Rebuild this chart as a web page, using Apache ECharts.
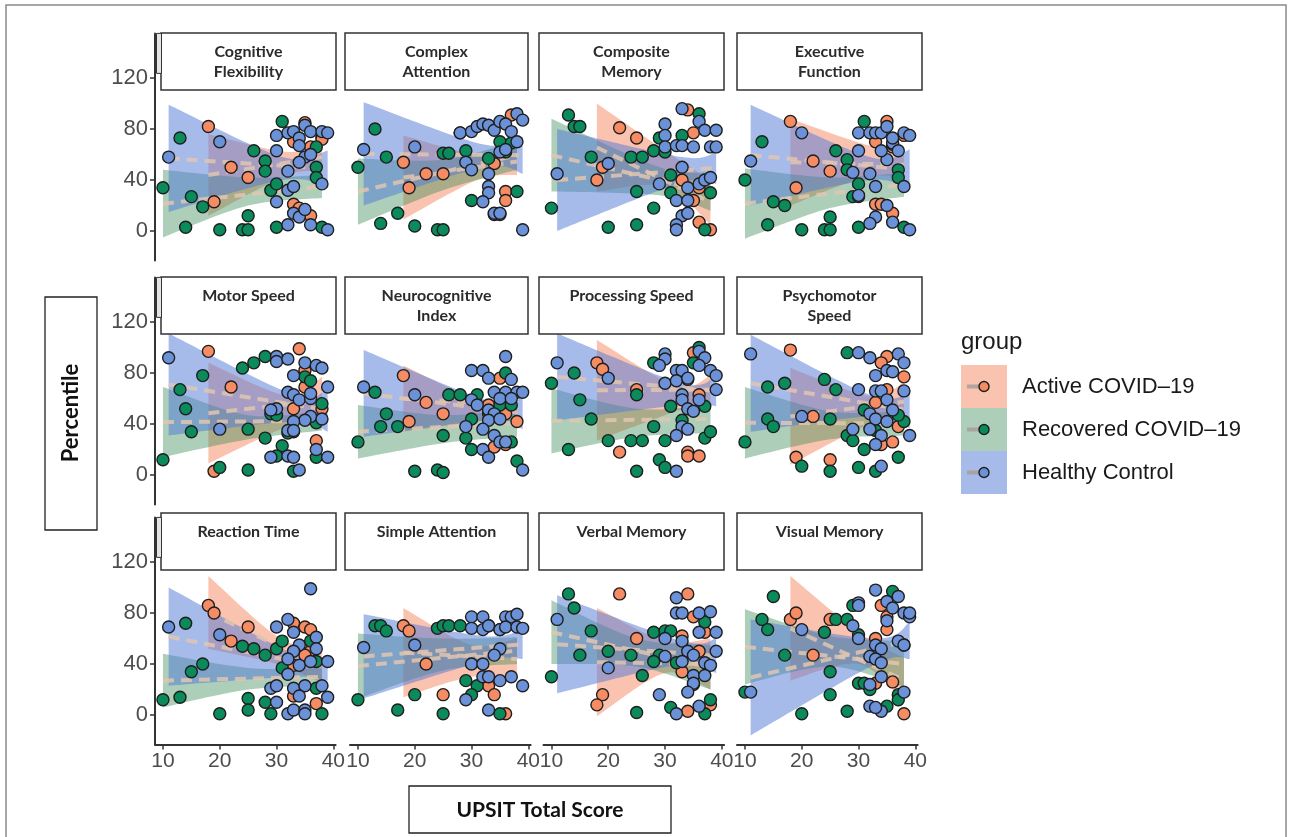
<!DOCTYPE html>
<html>
<head>
<meta charset="utf-8">
<script src="https://cdn.jsdelivr.net/npm/echarts@6/dist/echarts.min.js"></script>
<style>
  html, body { margin: 0; background: #fff; }
  #chart { width: 1292px; height: 837px; }
</style>
</head>
<body>
<div id="chart"></div>
<script>
// facet titles, in reading order
const panelTitles = [
  'Cognitive\nFlexibility', 'Complex\nAttention', 'Composite\nMemory', 'Executive\nFunction',
  'Motor Speed', 'Neurocognitive\nIndex', 'Processing Speed', 'Psychomotor\nSpeed',
  'Reaction Time', 'Simple Attention', 'Verbal Memory', 'Visual Memory'
];
const groupNames = ['Active COVID\u201319', 'Recovered COVID\u201319', 'Healthy Control'];
const yTicks = [0, 40, 80, 120];
const xTicks = [10, 20, 30, 40];

// [UPSIT score, percentile] per panel
const activePoints = [
  [[18,82],[19,23],[22,50],[25,42],[33,70],[33,21],[34,18],[35,85],[36,66],[36,12],[38,74],[38,72]],
  [[18,54],[19,34],[22,45],[25,45],[34,53],[36,31],[36,24],[34,13],[35,13],[37,91]],
  [[18,40],[19,50],[22,81],[25,73],[33,40],[34,95],[35,77],[36,34],[35,24],[36,7],[38,1]],
  [[18,86],[19,34],[22,55],[25,47],[33,70],[35,86],[36,66],[33,21],[34,21],[36,14],[38,75]],
  [[18,97],[19,3],[22,69],[34,99],[35,82],[35,69],[33,52],[33,34],[38,52],[37,27]],
  [[18,78],[19,42],[22,57],[25,48],[33,55],[35,76],[34,22],[36,48],[38,42],[36,24]],
  [[18,88],[19,83],[22,18],[25,67],[34,18],[34,15],[36,15],[35,96],[34,75],[36,63]],
  [[18,98],[19,14],[22,46],[25,12],[35,93],[34,88],[38,77],[33,57],[35,67],[34,24],[36,26],[37,38]],
  [[18,86],[19,80],[25,69],[22,58],[33,72],[35,69],[36,67],[36,50],[35,47],[33,39],[33,15],[37,9]],
  [[18,70],[19,66],[22,40],[25,16],[33,23],[34,16],[36,1]],
  [[22,95],[25,60],[19,16],[18,8],[34,95],[35,77],[37,65],[36,50],[33,34],[35,24],[38,8],[34,3],[33,62]],
  [[18,75],[19,80],[22,47],[25,75],[33,60],[34,86],[35,67],[36,26],[33,25],[38,1],[35,77]]
];
const recoveredPoints = [
  [[10,34],[13,73],[14,3],[15,27],[17,19],[20,1],[24,1],[25,1],[25,12],[26,63],[28,55],[28,47],[29,32],[30,37],[30,3],[31,86],[37,66],[37,50],[37,42],[38,3]],
  [[10,50],[13,80],[14,6],[15,58],[17,14],[20,4],[24,1],[25,1],[25,61],[26,61],[28,77],[29,63],[30,24],[33,57],[35,70],[37,69],[38,31],[36,62]],
  [[10,18],[13,91],[14,82],[15,82],[17,58],[20,3],[24,58],[26,58],[25,31],[25,5],[28,18],[28,63],[29,73],[30,62],[31,44],[31,30],[33,75],[36,92],[38,30],[37,1]],
  [[10,40],[13,70],[14,5],[15,23],[17,20],[20,1],[24,1],[25,1],[25,11],[26,63],[28,56],[28,48],[29,27],[30,37],[30,27],[30,3],[31,86],[37,48],[37,42],[38,3],[36,68]],
  [[10,12],[13,67],[14,52],[15,34],[17,78],[20,6],[24,84],[26,88],[28,93],[25,36],[25,4],[28,29],[29,48],[30,47],[31,23],[30,15],[32,33],[33,3],[35,77],[36,74],[37,41],[37,14],[38,56]],
  [[10,26],[13,65],[15,48],[14,38],[17,38],[20,3],[24,4],[25,2],[25,31],[26,63],[28,63],[29,29],[30,44],[30,20],[31,63],[33,48],[35,55],[37,55],[36,80],[37,26],[38,11]],
  [[10,72],[13,20],[14,80],[15,59],[17,44],[20,27],[24,27],[26,27],[25,3],[25,63],[28,38],[28,88],[29,12],[30,6],[30,27],[31,54],[33,43],[35,88],[36,100],[37,54],[37,29],[38,34]],
  [[10,26],[14,44],[15,38],[17,72],[14,69],[20,7],[24,75],[26,67],[25,44],[25,3],[28,31],[29,27],[30,6],[31,51],[31,20],[33,3],[37,14],[38,42],[37,47],[33,35],[28,96]],
  [[10,12],[13,14],[14,72],[15,34],[17,40],[20,1],[24,54],[26,52],[28,47],[25,13],[25,4],[28,10],[29,1],[30,52],[31,58],[31,37],[36,58],[37,42],[37,21],[38,1]],
  [[10,12],[13,70],[14,70],[15,66],[17,4],[20,16],[24,68],[25,70],[26,70],[28,70],[25,1],[29,27],[31,23],[30,16],[33,70],[35,67],[35,1]],
  [[10,30],[13,95],[14,84],[17,66],[15,47],[20,50],[24,47],[26,31],[25,2],[28,65],[29,47],[28,42],[30,66],[31,66],[32,41],[31,6],[37,73],[38,12],[37,1]],
  [[10,18],[15,93],[13,75],[14,67],[17,47],[20,1],[24,65],[25,34],[25,16],[26,75],[28,75],[29,86],[30,63],[28,3],[30,25],[31,25],[32,20],[36,97],[37,16],[37,12],[38,55],[35,7]]
];
const healthyPoints = [
  [[11,58],[20,70],[30,63],[30,23],[30,75],[32,47],[32,32],[33,35],[32,77],[33,78],[34,73],[34,67],[35,83],[35,58],[34,54],[36,60],[36,78],[38,78],[39,77],[38,37],[33,14],[34,11],[35,17],[32,5],[36,5],[39,1]],
  [[11,64],[20,66],[28,77],[29,54],[30,48],[30,78],[31,82],[32,84],[33,83],[34,79],[35,86],[36,84],[37,78],[38,92],[39,87],[35,62],[38,70],[33,45],[33,35],[33,30],[32,23],[34,14],[35,14],[39,1],[36,64]],
  [[11,45],[20,53],[30,84],[30,75],[30,66],[32,67],[33,67],[33,96],[35,66],[36,86],[37,79],[39,79],[38,66],[39,66],[29,37],[33,50],[34,34],[32,24],[34,24],[36,37],[37,40],[38,42],[33,12],[34,14],[32,5],[32,1]],
  [[11,55],[20,77],[30,63],[29,46],[32,45],[33,35],[30,28],[30,77],[32,77],[33,77],[34,77],[35,82],[36,69],[37,63],[35,56],[36,73],[38,77],[39,75],[38,35],[35,20],[33,11],[32,6],[36,7],[39,1],[34,63]],
  [[11,92],[20,36],[30,93],[30,89],[32,91],[35,88],[37,86],[38,84],[33,78],[39,69],[32,65],[33,63],[34,59],[36,60],[36,64],[30,52],[29,51],[36,46],[35,43],[33,42],[38,44],[32,35],[33,35],[37,20],[29,14],[32,15],[33,14],[39,14],[34,4]],
  [[11,69],[20,63],[30,82],[32,82],[33,76],[36,93],[37,75],[34,65],[36,65],[38,65],[39,65],[30,59],[31,55],[35,60],[37,60],[33,51],[34,48],[29,38],[33,43],[35,44],[32,36],[34,31],[35,26],[36,26],[32,20],[33,14],[39,4]],
  [[11,88],[20,76],[30,95],[30,91],[29,86],[30,72],[32,82],[33,82],[32,74],[34,76],[36,97],[37,92],[36,86],[38,82],[39,78],[39,67],[33,63],[33,59],[36,59],[34,52],[35,50],[33,38],[34,36],[32,31],[32,3]],
  [[11,95],[20,46],[30,96],[32,92],[37,95],[38,88],[33,78],[35,82],[36,81],[30,67],[33,66],[34,66],[38,66],[35,59],[32,48],[33,44],[35,42],[36,51],[29,36],[32,36],[34,31],[33,24],[39,31],[34,7]],
  [[11,69],[20,63],[36,99],[30,69],[32,75],[33,65],[37,61],[37,52],[34,55],[33,50],[32,44],[34,39],[36,42],[39,42],[32,32],[29,21],[30,23],[33,21],[35,23],[38,23],[34,15],[39,14],[30,10],[32,1],[33,4],[35,4],[35,1]],
  [[11,53],[20,55],[30,77],[32,77],[36,77],[37,77],[38,79],[30,68],[32,67],[33,70],[35,67],[36,69],[38,69],[39,68],[35,52],[34,47],[30,40],[32,40],[32,30],[33,30],[35,27],[37,30],[29,12],[39,23],[33,4]],
  [[11,75],[20,37],[29,16],[30,46],[30,60],[32,92],[32,80],[33,80],[36,80],[38,81],[36,65],[39,65],[33,58],[34,50],[35,47],[39,50],[33,42],[37,41],[38,39],[35,31],[37,31],[35,25],[34,18],[36,7],[32,1]],
  [[11,18],[20,67],[30,88],[30,86],[29,70],[30,60],[33,98],[35,89],[37,93],[36,84],[38,80],[39,77],[39,80],[35,74],[33,55],[34,52],[32,46],[33,44],[34,41],[37,58],[38,55],[32,24],[34,30],[38,18],[32,7],[34,3],[33,6]]
];

// confidence ribbons: [score, lower, upper]
const activeBands = [
  [[18,12,76],[32,44,62],[38,46,70]],
  [[18,9,75],[31,40,60],[38,44,65]],
  [[18,31,100],[30,35,63],[38,5,40]],
  [[18,20,88],[31,42,68],[38,42,62]],
  [[18,9,88],[32,38,62],[38,40,77]],
  [[18,34,86],[31,42,60],[38,46,64]],
  [[18,27,106],[32,50,70],[38,56,78]],
  [[18,8,84],[32,40,62],[38,42,73]],
  [[18,52,109],[30,40,62],[38,25,50]],
  [[18,14,84],[30,30,55],[38,28,60]],
  [[18,-1,84],[30,33,58],[38,20,60]],
  [[18,27,109],[30,40,65],[38,10,45]]
];
const recoveredBands = [
  [[10,-5,48],[25,20,42],[38,26,44]],
  [[10,5,57],[25,32,56],[38,48,71]],
  [[10,31,88],[29,28,50],[38,16,46]],
  [[10,-6,49],[25,18,42],[38,27,46]],
  [[10,14,69],[25,28,47],[38,35,50]],
  [[10,13,55],[25,25,47],[38,30,52]],
  [[10,17,68],[25,30,52],[38,33,55]],
  [[10,13,69],[25,28,50],[38,31,50]],
  [[10,6,48],[25,20,37],[38,23,37]],
  [[10,13,64],[25,35,60],[38,40,61]],
  [[10,40,90],[25,38,60],[38,20,55]],
  [[10,24,83],[25,38,62],[38,22,58]]
];
const healthyBands = [
  [[11,15,99],[31,40,58],[39,35,63]],
  [[11,20,101],[32,50,68],[39,45,74]],
  [[11,0,80],[33,38,58],[39,37,62]],
  [[11,20,99],[32,40,58],[39,32,64]],
  [[11,31,111],[33,42,63],[39,34,68]],
  [[11,30,98],[33,43,58],[39,36,61]],
  [[11,43,111],[33,55,72],[39,54,78]],
  [[11,34,110],[32,46,63],[39,37,64]],
  [[11,23,100],[33,30,48],[39,27,47]],
  [[11,13,79],[32,42,62],[39,44,67]],
  [[11,17,94],[33,40,58],[39,33,60]],
  [[11,-16,75],[33,40,60],[39,44,73]]
];

const chart = echarts.init(document.getElementById('chart'));

const colLeft = [155, 350, 543.5, 737];
const rowTop = [33.4, 277.4, 517.4];
const panelW = 180.6, panelH = 227;
const stripLeft = [161, 345, 539, 737];
const stripRight = [336, 528, 724, 922];
const stripTop = [33, 277, 513];

const pointColors = ['#f68c64', '#0b8a5c', '#6b92d8'];
const ribbonColors = ['rgba(245,135,95,0.5)', 'rgba(50,135,80,0.4)', 'rgba(80,120,215,0.5)'];
const groupPoints = [activePoints, recoveredPoints, healthyPoints];
const groupBands = [activeBands, recoveredBands, healthyBands];
const labelFont = 'Liberation Sans, Arial, sans-serif';

// smooth path through pixel points (Catmull-Rom as cubic bezier)
function curveThrough(pts, start) {
  let d = start ? 'M' + pts[0][0] + ' ' + pts[0][1] : 'L' + pts[0][0] + ' ' + pts[0][1];
  for (let i = 0; i < pts.length - 1; i++) {
    const p0 = pts[i - 1] || pts[i], p1 = pts[i], p2 = pts[i + 1], p3 = pts[i + 2] || pts[i + 1];
    const c1 = [p1[0] + (p2[0] - p0[0]) / 6, p1[1] + (p2[1] - p0[1]) / 6];
    const c2 = [p2[0] - (p3[0] - p1[0]) / 6, p2[1] - (p3[1] - p1[1]) / 6];
    d += ' C' + c1[0] + ' ' + c1[1] + ' ' + c2[0] + ' ' + c2[1] + ' ' + p2[0] + ' ' + p2[1];
  }
  return d;
}

function bandRenderer(band, color) {
  return function (params, api) {
    if (params.dataIndex !== 0) return null;
    const top = band.map(b => api.coord([b[0], b[2]]));
    const bottom = band.map(b => api.coord([b[0], b[1]])).reverse();
    const d = curveThrough(top, true) + ' ' + curveThrough(bottom, false) + ' Z';
    return { type: 'path', shape: { pathData: d }, style: { fill: color }, silent: true };
  };
}

const grids = [], xAxes = [], yAxes = [], series = [];
const graphics = [];

for (let p = 0; p < 12; p++) {
  const row = Math.floor(p / 4), col = p % 4;
  grids.push({ left: colLeft[col], top: rowTop[row], width: panelW, height: panelH });
  xAxes.push({
    gridIndex: p, type: 'value', min: 8.6, max: 40.4,
    splitLine: { show: false },
    axisLine: { show: row === 2, onZero: false, lineStyle: { color: '#333', width: 2 } },
    axisTick: { show: row === 2, length: 5, customValues: xTicks, lineStyle: { color: '#333', width: 1.5 } },
    axisLabel: { show: row === 2, customValues: xTicks, fontSize: 21, color: '#4d4d4d', margin: 6, fontFamily: labelFont }
  });
  yAxes.push({
    gridIndex: p, type: 'value', min: -23, max: 155,
    splitLine: { show: false },
    axisLine: { show: col === 0, onZero: false, lineStyle: { color: '#333', width: 2 } },
    axisTick: { show: col === 0, length: 5, customValues: yTicks, lineStyle: { color: '#333', width: 1.5 } },
    axisLabel: { show: col === 0, customValues: yTicks, fontSize: 22, color: '#4d4d4d', margin: 7, fontFamily: labelFont }
  });

  // ribbons
  for (let g = 0; g < 3; g++) {
    const band = groupBands[g][p];
    series.push({
      type: 'custom', xAxisIndex: p, yAxisIndex: p, silent: true, z: 1,
      data: band.map(b => [b[0], b[1], b[2]]),
      encode: { x: 0, y: [1, 2] },
      renderItem: bandRenderer(band, ribbonColors[g])
    });
  }
  // dashed fit lines through the ribbon centres
  for (let g = 0; g < 3; g++) {
    const band = groupBands[g][p];
    const a = band[0], b = band[band.length - 1];
    series.push({
      type: 'line', xAxisIndex: p, yAxisIndex: p, symbol: 'none', silent: true,
      data: [[a[0], (a[1] + a[2]) / 2], [b[0], (b[1] + b[2]) / 2]],
      lineStyle: { color: 'rgba(224,198,176,0.85)', width: 4, type: [11, 7] }, z: 2
    });
  }
  // points
  for (let g = 0; g < 3; g++) {
    series.push({
      type: 'scatter', name: groupNames[g], xAxisIndex: p, yAxisIndex: p,
      data: groupPoints[g][p], symbolSize: 12,
      itemStyle: { color: pointColors[g], borderColor: '#1e1e1e', borderWidth: 1.4, opacity: 1 }, z: 3
    });
  }

  // facet strip
  graphics.push({
    type: 'rect', z: 100,
    shape: { x: stripLeft[col], y: stripTop[row], width: stripRight[col] - stripLeft[col], height: 57 },
    style: { fill: '#fff', stroke: '#333', lineWidth: 1.5 }
  });
  graphics.push({
    type: 'text', z: 101,
    x: (stripLeft[col] + stripRight[col]) / 2, y: stripTop[row] + 9,
    style: { text: panelTitles[p], fill: '#2b2b2b', font: 'bold 16px Lato, sans-serif', align: 'center', verticalAlign: 'top', lineHeight: 20 }
  });
}

// small bracket marks left of each row
rowTop.forEach(t => {
  graphics.push({ type: 'rect', z: 100, shape: { x: 156.5, y: t, width: 5, height: 40 },
    style: { fill: '#e4e4e4', stroke: '#333', lineWidth: 1 } });
});

// axis title boxes
graphics.push({ type: 'rect', z: 100, shape: { x: 45, y: 297, width: 52, height: 233 },
  style: { fill: '#fff', stroke: '#222', lineWidth: 1.3 } });
graphics.push({ type: 'text', z: 101, x: 71, y: 413, rotation: Math.PI / 2,
  style: { text: 'Percentile', font: 'bold 22px Lato, sans-serif', fill: '#111', align: 'center', verticalAlign: 'middle' } });
graphics.push({ type: 'rect', z: 100, shape: { x: 409, y: 786, width: 262, height: 47 },
  style: { fill: '#fff', stroke: '#222', lineWidth: 1.3 } });
graphics.push({ type: 'text', z: 101, x: 540, y: 810,
  style: { text: 'UPSIT Total Score', font: 'bold 21px Lato, sans-serif', fill: '#111', align: 'center', verticalAlign: 'middle' } });

// legend
graphics.push({ type: 'text', z: 101, x: 961, y: 342,
  style: { text: 'group', font: '24px Liberation Sans, Arial, sans-serif', fill: '#1a1a1a', align: 'left', verticalAlign: 'middle' } });
groupNames.forEach((name, g) => {
  const top = 365 + g * 43, cy = top + 21.5;
  graphics.push({ type: 'rect', z: 100, shape: { x: 961, y: top, width: 46, height: 43 }, style: { fill: ribbonColors[g] } });
  graphics.push({ type: 'line', z: 101, shape: { x1: 967, y1: cy, x2: 981, y2: cy }, style: { stroke: 'rgba(170,160,155,0.9)', lineWidth: 4 } });
  graphics.push({ type: 'circle', z: 102, shape: { cx: 984, cy: cy, r: 5 }, style: { fill: pointColors[g], stroke: '#1e1e1e', lineWidth: 1.4 } });
  graphics.push({ type: 'text', z: 101, x: 1022, y: cy,
    style: { text: name, font: '22px Liberation Sans, Arial, sans-serif', fill: '#1a1a1a', align: 'left', verticalAlign: 'middle' } });
});

// outer frame
graphics.push({ type: 'rect', z: 99, shape: { x: 6, y: 5, width: 1280, height: 840 },
  style: { fill: 'none', stroke: '#8a8a8a', lineWidth: 1.5 } });

chart.setOption({
  backgroundColor: '#ffffff',
  animation: false,
  grid: grids,
  xAxis: xAxes,
  yAxis: yAxes,
  series: series,
  graphic: { elements: graphics }
});
</script>
</body>
</html>
